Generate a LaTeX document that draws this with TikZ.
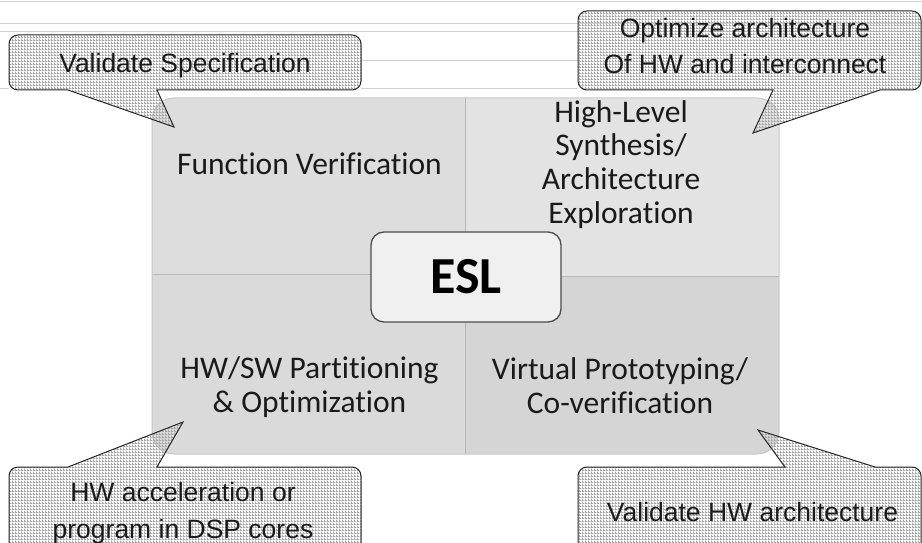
\documentclass[tikz,border=0pt]{standalone}
\usepackage{fontspec}
\setmainfont{Carlito}[Ligatures=NoCommon]
\newfontfamily\calloutfont{Liberation Sans}
\usetikzlibrary{patterns}

% fine square grid used to fill the speech bubbles
\pgfdeclarepatternformonly{finegrid}{\pgfqpoint{0pt}{0pt}}{\pgfqpoint{3pt}{3pt}}{\pgfqpoint{3pt}{3pt}}{%
  \pgfpathrectangle{\pgfqpoint{0pt}{0pt}}{\pgfqpoint{3pt}{1pt}}\pgfusepath{fill}%
  \pgfpathrectangle{\pgfqpoint{0pt}{0pt}}{\pgfqpoint{1pt}{3pt}}\pgfusepath{fill}}

\definecolor{qtl}{HTML}{DDDDDD}
\definecolor{qtr}{HTML}{E3E3E3}
\definecolor{qbl}{HTML}{DADADA}
\definecolor{qbr}{HTML}{D5D5D5}
\definecolor{rulegray}{HTML}{D2D2D2}
\definecolor{divgray}{HTML}{B8B8B8}
\definecolor{inkgray}{HTML}{1A1A1A}

\tikzset{
  faintrule/.style={draw=rulegray, line width=0.8pt},
  divider/.style={draw=divgray, line width=1pt},
  quadtext/.style={align=center, text=inkgray, inner sep=0pt,
    font=\fontsize{31.5}{33.8}\selectfont},
  eslbox/.style={draw=black!70, line width=1.3pt, fill=black!6,
    rounded corners=13pt, minimum width=190pt, minimum height=90pt,
    font=\bfseries\fontsize{52}{52}\selectfont, text=black},
  bubble/.style={pattern=finegrid, pattern color=black!34, draw=black!85, line width=1pt},
  bubbletext/.style={align=center, text=inkgray, inner sep=0pt,
    font=\calloutfont\fontsize{26.5}{36.5}\selectfont},
}

\begin{document}
\begin{tikzpicture}[x=1pt, y=1pt]
\useasboundingbox (0,0) rectangle (922,542);

% faint ruling across the top
\draw[faintrule] (0,540.5) -- (922,540.5);
\draw[faintrule] (0,519) -- (922,519);
\draw[faintrule] (0,511) -- (922,511);
\draw[faintrule] (361,482) -- (578,482);
\draw[faintrule] (0,454) -- (9,454);
\draw[faintrule] (361,454) -- (578,454);

% the four quadrants
\begin{scope}
  \clip[rounded corners=22pt] (152,88) rectangle (779,444);
  \fill[qtl] (152,267.5) rectangle (465.5,444);
  \fill[qtr] (465.5,265.5) rectangle (779,444);
  \fill[qbl] (152,88) rectangle (465.5,267.5);
  \fill[qbr] (465.5,88) rectangle (779,265.5);
\end{scope}
\draw[divider] (465.5,88) -- (465.5,444);
\draw[divider] (152,267.5) -- (465.5,267.5);
\draw[divider] (465.5,265.5) -- (779,265.5);
\draw[draw=black!22, line width=1pt, rounded corners=22pt] (152,88) rectangle (779,444);

% centre label
\node[eslbox] (esl) at (466,265) {ESL};

% quadrant labels
\node[quadtext, anchor=base] (fv) at (309.5,367) {Function Verification};
\node[quadtext] (hls) at (621,377.5) {High-Level\\Synthesis/\\Architecture\\Exploration};
\node[quadtext] (hwsw) at (309.5,155) {HW/SW Partitioning\\\& Optimization};
\node[quadtext] (vp) at (620,156.5) {Virtual Prototyping/\\Co-verification};

% speech bubbles
\draw[bubble] (68,452) -- (174,415) -- (157,452) -- (352,452)
  arc[start angle=270, end angle=360, radius=9] -- (361,498)
  arc[start angle=0, end angle=90, radius=9] -- (18,507)
  arc[start angle=90, end angle=180, radius=9] -- (9,461)
  arc[start angle=180, end angle=270, radius=9] -- cycle;

\draw[bubble] (773,452) -- (753,409) -- (880,452) -- (912,452)
  arc[start angle=270, end angle=360, radius=9] -- (921,522)
  arc[start angle=0, end angle=90, radius=9] -- (587,531)
  arc[start angle=90, end angle=180, radius=9] -- (578,461)
  arc[start angle=180, end angle=270, radius=9] -- cycle;

\draw[bubble] (157,75) -- (183,120) -- (68,75) -- (18,75)
  arc[start angle=90, end angle=180, radius=9] -- (9,-4)
  arc[start angle=180, end angle=270, radius=9] -- (352,-13)
  arc[start angle=270, end angle=360, radius=9] -- (361,66)
  arc[start angle=0, end angle=90, radius=9] -- cycle;

\draw[bubble] (875,75) -- (758,112) -- (785,75) -- (587,75)
  arc[start angle=90, end angle=180, radius=9] -- (578,-4)
  arc[start angle=180, end angle=270, radius=9] -- (912,-13)
  arc[start angle=270, end angle=360, radius=9] -- (921,66)
  arc[start angle=0, end angle=90, radius=9] -- cycle;

% bubble texts
\node[bubbletext, anchor=base] (spec) at (185,469) {Validate Specification};
\node[bubbletext] (arch) at (745,496) {Optimize architecture\\Of HW and interconnect};
\node[bubbletext] (dsp) at (183,29) {HW acceleration or\\program in DSP cores};
\node[bubbletext, anchor=base] (hwv) at (752.5,20.5) {Validate HW architecture};
\end{tikzpicture}
\end{document}
